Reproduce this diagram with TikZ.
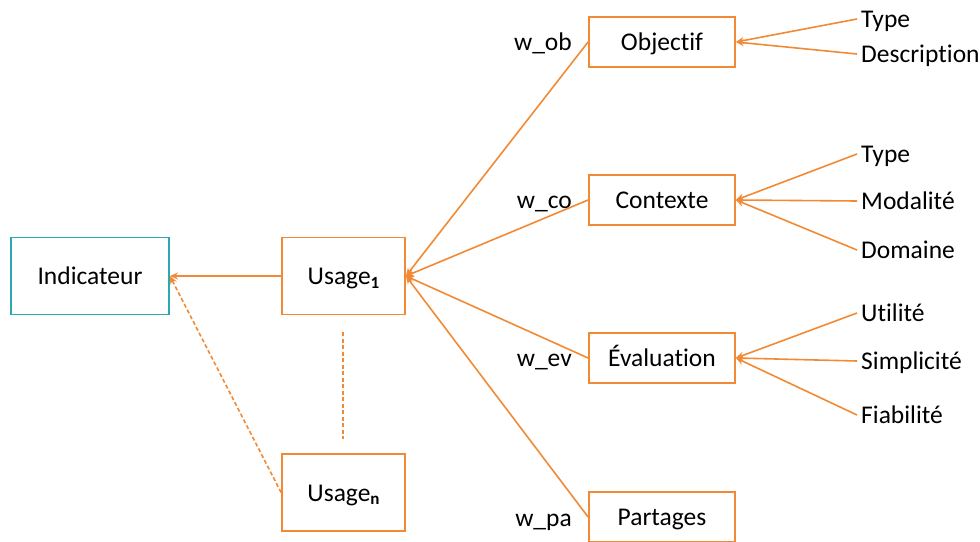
\documentclass[tikz,border=0pt]{standalone}
\usepackage{fontspec}
\setmainfont{Carlito}[Ligatures=NoCommon]
\usetikzlibrary{arrows.meta}
\definecolor{orng}{HTML}{F28A35}
\definecolor{teal2}{HTML}{2CA8B0}
\tikzset{
  txt/.style={text height=19.5pt, text depth=2.5pt, font=\fontsize{25.5}{30}\selectfont},
  box/.style={txt, draw=orng, line width=1.8pt, minimum width=146pt, minimum height=50pt, inner sep=0pt},
  ubox/.style={box, minimum width=123pt, minimum height=77pt},
  ibox/.style={box, draw=teal2, minimum width=158pt, minimum height=77pt},
  attr/.style={txt, anchor=west, inner sep=4pt},
  wlab/.style={txt, anchor=east, inner sep=2pt},
  link/.style={draw=orng, line width=1.6pt, -{Stealth[length=8pt,width=7pt]}},
  dlink/.style={link, dash pattern=on 4pt off 2.5pt},
}
\newcommand{\sub}[1]{\raisebox{-0.3ex}{\fontsize{17}{17}\selectfont\bfseries #1}}
\begin{document}
\begin{tikzpicture}[x=1pt,y=-1pt]
\useasboundingbox (0,0) rectangle (980,541);
% main boxes
\node[ibox] (ind) at (90,276) {Indicateur};
\node[ubox] (u1) at (343.5,276) {Usage\sub{1}};
\node[ubox] (un) at (343.5,492.5) {Usage\sub{n}};
\node[box] (obj) at (662,42) {Objectif};
\node[box] (ctx) at (662,200) {Contexte};
\node[box] (eva) at (662,358) {Évaluation};
\node[box] (par) at (662,517) {Partages};
% weight labels
\node[wlab] (wob) at (574,42) {w\_ob};
\node[wlab] (wco) at (574,200) {w\_co};
\node[wlab] (wev) at (574,358) {w\_ev};
\node[wlab] (wpa) at (574,518) {w\_pa};
% attributes
\node[attr] (oty) at (857,19) {Type};
\node[attr] (ode) at (857,54) {Description};
\node[attr] (cty) at (857,154) {Type};
\node[attr] (cmo) at (857,201) {Modalité};
\node[attr] (cdo) at (857,250) {Domaine};
\node[attr] (eut) at (857,313) {Utilité};
\node[attr] (esi) at (857,361) {Simplicité};
\node[attr] (efi) at (857,415) {Fiabilité};
% dots between usages
\coordinate (d1) at (343,332);
\coordinate (d2) at (343,439);
\draw[draw=orng, line width=1.6pt, dash pattern=on 4pt off 2.5pt] (d1) -- (d2);
% connectors
\draw[link] (u1.west) -- (ind.east);
\draw[dlink] (un.west) -- (ind.east);
\draw[link] (obj.west) -- (u1.east);
\draw[link] (ctx.west) -- (u1.east);
\draw[link] (eva.west) -- (u1.east);
\draw[link] (par.west) -- (u1.east);
\draw[link] (oty.west) -- (obj.east);
\draw[link] (ode.west) -- (obj.east);
\draw[link] (cty.west) -- (ctx.east);
\draw[link] (cmo.west) -- (ctx.east);
\draw[link] (cdo.west) -- (ctx.east);
\draw[link] (eut.west) -- (eva.east);
\draw[link] (esi.west) -- (eva.east);
\draw[link] (efi.west) -- (eva.east);
\end{tikzpicture}
\end{document}
